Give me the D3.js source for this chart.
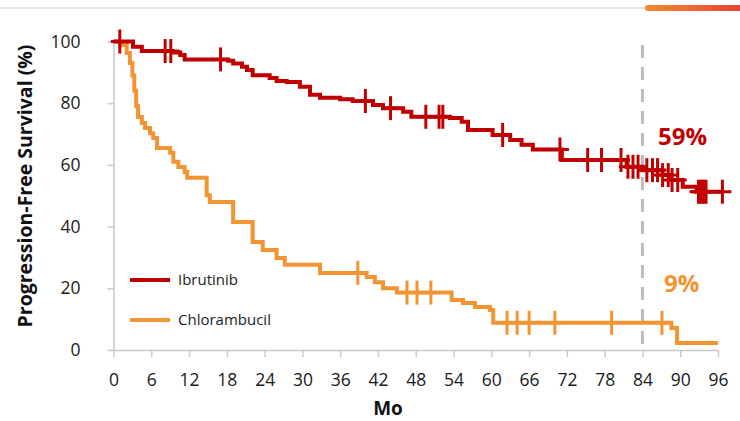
<!DOCTYPE html>
<html lang="en">
<head>
<meta charset="utf-8">
<title>Progression-Free Survival</title>
<script src="https://d3js.org/d3.v7.min.js"></script>
<style>
  body { margin: 0; background: #fff; }
  svg { display: block; font-family: "Open Sans", sans-serif; }
</style>
</head>
<body>
<script>
// step points [month, percent]
var ibrSteps = [[0,100],[3.1,98.3],[4.5,96.9],[9.4,96.4],[10.6,95.6],[11.3,94.2],[18.2,93.8],[19,92.9],
  [20.4,91.8],[21.2,90.8],[22.1,89.1],[24.8,88.2],[25.9,87.2],[27.5,86.9],[29.6,85.3],[31.2,82.7],
  [32.8,81.8],[36,81.3],[38,80.7],[41.2,79.4],[42.8,78.4],[46,77.2],[47.3,75.6],[53.4,75.2],[55.3,74],
  [56.3,71.3],[60.2,69.7],[63,68.1],[64.8,66.5],[66.6,65],[71.2,61.6],[81.5,59.4],[84,58.3],[87.2,56.7],
  [88.3,55.1],[90.4,52.9],[92.6,51.3],[96.7,51.3]];
var ibrCensor = [1,8.2,9.1,17,40,44,49.6,51.7,52.3,61.8,70.9,75.3,77.5,80.6,81.7,82.5,83.3,84.7,85.6,
  86.4,87.2,88.1,88.7,89.6,92.9,93.2,93.5,93.8,94.1,96.7];

var chlSteps = [[0,100],[1.1,98.9],[2.1,96.3],[2.6,93],[3,89],[3.3,84],[3.6,79],[3.9,75.5],[4.5,73.6],
  [5,72],[5.8,70.3],[6.3,68.7],[6.9,65.5],[9,63.9],[9.5,61],[10.3,59.3],[11.3,57.7],[11.7,55.8],
  [14.8,50.2],[15.3,48],[19,41.5],[22.1,35],[23.7,32.4],[25.9,29.8],[27.2,27.6],[32.8,25],[40.2,23.7],
  [41.5,22],[42.8,20],[45,18.6],[53.7,16.2],[55.5,15.2],[57.4,13.9],[59.8,13],[60.3,8.8],[88.6,7.1],
  [89.5,2.3],[96,2.3]];
var chlCensor = [38.8,46.6,48.2,50.4,62.5,64.1,66,70.1,79.1,87.1];

var xTicks = d3.range(0, 97, 6);
var yTicks = [0, 20, 40, 60, 80, 100];
var landmark = 84;
var landmarkLabels = [{text: "59%", pct: 59}, {text: "9%", pct: 9}];

var red = "#C00000", orange = "#F39433";

var W = 740, H = 421;
var svg = d3.select("body").append("svg").attr("width", W).attr("height", H);

var x = d3.scaleLinear().domain([0, 96]).range([113.5, 718]);
var y = d3.scaleLinear().domain([0, 100]).range([350, 41.5]);

// top decoration
var grad = svg.append("defs").append("linearGradient").attr("id", "bar");
grad.append("stop").attr("offset", "0%").attr("stop-color", "#F08C2E");
grad.append("stop").attr("offset", "100%").attr("stop-color", "#E5403A");
svg.append("line").attr("x1", 0).attr("x2", 648).attr("y1", 8).attr("y2", 8)
  .attr("stroke", "#E6E6E6").attr("stroke-width", 2);
svg.append("rect").attr("x", 645).attr("y", 5).attr("width", 100).attr("height", 6)
  .attr("rx", 3).attr("fill", "url(#bar)");

// axes
var xAxis = svg.append("g").attr("transform", "translate(0,350)")
  .call(d3.axisBottom(x).tickValues(xTicks).tickSize(7).tickPadding(17).tickSizeOuter(0));
var yAxis = svg.append("g").attr("transform", "translate(113.5,0)")
  .call(d3.axisLeft(y).tickValues(yTicks).tickSize(6).tickPadding(27).tickSizeOuter(0));
[xAxis, yAxis].forEach(function(a) {
  a.select(".domain").attr("stroke", "#C8C8C8").attr("stroke-width", 1.5);
  a.selectAll(".tick line").attr("stroke", "#C8C8C8").attr("stroke-width", 1.5);
  a.selectAll("text").attr("font-size", 17.5).attr("fill", "#1a1a1a")
    .attr("font-family", "'Open Sans', sans-serif");
});

svg.append("text").attr("x", 388).attr("y", 415).attr("text-anchor", "middle")
  .attr("font-size", 19).attr("font-weight", "bold").attr("fill", "#111").text("Mo");
svg.append("text").attr("transform", "translate(32,186) rotate(-90)").attr("text-anchor", "middle")
  .attr("font-size", 19.5).attr("font-weight", "bold").attr("fill", "#111")
  .text("Progression-Free Survival (%)");

// landmark line
svg.append("line").attr("x1", x(landmark)).attr("x2", x(landmark)).attr("y1", 45).attr("y2", 350)
  .attr("stroke", "#BDBDBD").attr("stroke-width", 3).attr("stroke-dasharray", "13,9");

var line = d3.line().x(function(d) { return x(d[0]); }).y(function(d) { return y(d[1]); })
  .curve(d3.curveStepAfter);

function valueAt(steps, t) {
  var v = steps[0][1];
  steps.forEach(function(s) { if (s[0] <= t) v = s[1]; });
  return v;
}

function drawCurve(steps, censor, color) {
  svg.append("path").datum(steps).attr("d", line).attr("fill", "none")
    .attr("stroke", color).attr("stroke-width", 4);
  var g = svg.append("g").attr("stroke", color).attr("stroke-width", 3);
  censor.forEach(function(t) {
    var cx = x(t), cy = y(valueAt(steps, t));
    g.append("line").attr("x1", cx).attr("x2", cx).attr("y1", cy - 12).attr("y2", cy + 12);
    g.append("line").attr("x1", cx - 9).attr("x2", cx + 9).attr("y1", cy).attr("y2", cy);
  });
}
drawCurve(chlSteps, chlCensor, orange);
drawCurve(ibrSteps, ibrCensor, red);

// landmark labels
svg.append("text").attr("x", 658).attr("y", 145).attr("font-size", 24).attr("font-weight", "bold")
  .attr("fill", red).text(landmarkLabels[0].text);
svg.append("text").attr("x", 664).attr("y", 292).attr("font-size", 24).attr("font-weight", "bold")
  .attr("fill", orange).text(landmarkLabels[1].text);

// legend
var legend = [{name: "Ibrutinib", color: red, y: 280}, {name: "Chlorambucil", color: orange, y: 320}];
legend.forEach(function(l) {
  svg.append("line").attr("x1", 130).attr("x2", 170).attr("y1", l.y).attr("y2", l.y)
    .attr("stroke", l.color).attr("stroke-width", 4);
  svg.append("text").attr("x", 178).attr("y", l.y + 5).attr("font-size", 15).attr("fill", "#222")
    .text(l.name);
});
</script>
</body>
</html>
